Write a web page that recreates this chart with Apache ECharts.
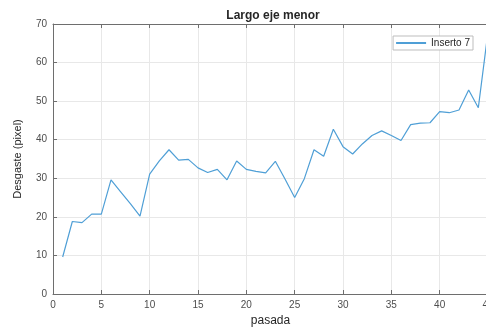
<!DOCTYPE html>
<html><head><meta charset="utf-8">
<script src="https://cdn.jsdelivr.net/npm/echarts@6/dist/echarts.min.js"></script>
<style>html,body{margin:0;padding:0;background:#fff}#c{width:486px;height:328px}</style>
</head><body><div id="c"></div>
<script>
var pasada = [1,2,3,4,5,6,7,8,9,10,11,12,13,14,15,16,17,18,19,20,21,22,23,24,25,26,27,28,29,30,31,32,33,34,35,36,37,38,39,40,41,42,43,44,45];
var inserto7 = [9.6,18.8,18.5,20.7,20.7,29.6,26.5,23.4,20.2,31.1,34.5,37.4,34.7,34.9,32.7,31.5,32.3,29.6,34.5,32.3,31.8,31.4,34.4,29.8,25.0,29.9,37.4,35.7,42.7,38.2,36.3,38.9,41.1,42.3,41.1,39.8,43.9,44.3,44.4,47.3,47.0,47.7,52.9,48.3,68];
var seriesName = 'Inserto 7';
var titleText = 'Largo eje menor';
var xName = 'pasada';
var yName = 'Desgaste (pixel)';

var font = '"Liberation Sans", Arial, sans-serif';
var chart = echarts.init(document.getElementById('c'));
var data = pasada.map(function(x,i){return [x, inserto7[i]];});
chart.setOption({
  animation:false,
  title:{text:titleText,left:268,textAlign:'center',top:5,textStyle:{fontFamily:font,fontSize:12,fontWeight:'bold',color:'#262626'}},
  legend:{data:[seriesName],right:13,top:36,itemWidth:30,itemHeight:2,icon:'rect',
    backgroundColor:'#fff',borderColor:'#bdbdbd',borderWidth:1,borderRadius:0,padding:[2,3,2,3],itemGap:4,
    textStyle:{fontFamily:font,fontSize:10,color:'#262626'}},
  grid:{left:53,right:-2,top:24,bottom:34,show:false,containLabel:false,outerBoundsMode:'none'},
  xAxis:[{type:'value',min:0,max:45,interval:5,name:xName,nameLocation:'middle',nameGap:17,
    nameTextStyle:{fontFamily:font,fontSize:12,color:'#262626'},
    axisLine:{show:true,onZero:false,lineStyle:{color:'#6e6e6e'}},
    axisTick:{show:true,inside:true,length:4,lineStyle:{color:'#6e6e6e'}},
    axisLabel:{fontFamily:font,fontSize:10,color:'#4d4d4d',margin:6},
    splitLine:{show:true,lineStyle:{color:'#e8e8e8'}}},
    {type:'value',position:'top',min:0,max:45,interval:5,
    axisLine:{show:true,onZero:false,lineStyle:{color:'#6e6e6e'}},
    axisTick:{show:true,inside:true,length:4,lineStyle:{color:'#6e6e6e'}},
    axisLabel:{show:false},splitLine:{show:false}}],
  yAxis:[{type:'value',min:0,max:70,interval:10,name:yName,nameLocation:'middle',nameGap:30,
    nameTextStyle:{fontFamily:font,fontSize:11,color:'#262626'},
    axisLine:{show:true,onZero:false,lineStyle:{color:'#6e6e6e'}},
    axisTick:{show:true,inside:true,length:4,lineStyle:{color:'#6e6e6e'}},
    axisLabel:{fontFamily:font,fontSize:10,color:'#4d4d4d',margin:6},
    splitLine:{show:true,lineStyle:{color:'#e8e8e8'}}}],
  series:[{name:seriesName,type:'line',data:data,showSymbol:false,symbol:'none',
    lineStyle:{color:'#4f9fd6',width:1.2},itemStyle:{color:'#4f9fd6'}}]
});
</script></body></html>
